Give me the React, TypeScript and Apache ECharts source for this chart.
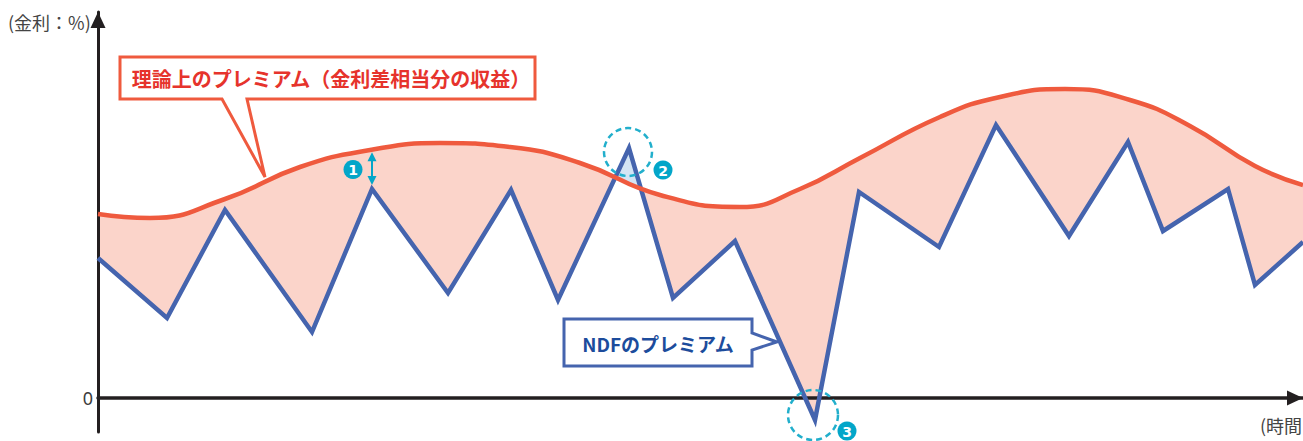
import React, { useEffect, useRef } from 'react';
import * as echarts from 'echarts';

// NDFのプレミアム：時間（グラフ左端からの位置）と値
const ndfTime = [0, 69, 127, 214, 274, 350, 413, 460, 531, 575, 637, 717, 761, 841, 898, 971, 1030, 1065, 1130, 1157, 1205];
const ndfPremium = [140, 80, 188, 66, 209, 105, 208, 98, 250, 100, 157, -22, 206, 151, 273, 162, 256, 167, 209, 113, 156];
// 理論上のプレミアム（金利差相当分の収益）：時間と値
const theoreticalTime = [0, 52, 127, 202, 272, 342, 412, 482, 562, 642, 702, 762, 842, 902, 967, 1032, 1092, 1157, 1205];
const theoreticalPremium = [184, 180, 199, 231, 248, 255, 251, 235, 203, 191, 209, 240, 281, 301, 309, 298, 272, 232, 213];
// y軸の目盛ラベル
const yTickLabels = [0];

const X_MIN = 0;
const X_MAX = 1205;
const Y_MIN = -34;
const Y_MAX = 386;

const FONT = '"Noto Sans CJK JP", "Noto Sans", sans-serif';
const RED = '#ef5a3e';
const BLUE = '#4564ae';
const CYAN = '#03a6c9';

function theoreticalAt(x: number): number {
  for (let k = 1; k < theoreticalTime.length; k++) {
    if (x <= theoreticalTime[k]) {
      const x0 = theoreticalTime[k - 1];
      const x1 = theoreticalTime[k];
      const t = (x - x0) / (x1 - x0);
      return theoreticalPremium[k - 1] + t * (theoreticalPremium[k] - theoreticalPremium[k - 1]);
    }
  }
  return theoreticalPremium[theoreticalPremium.length - 1];
}

export default function App() {
  const ref = useRef<HTMLDivElement>(null);

  useEffect(() => {
    if (!ref.current) return;
    const chart = echarts.init(ref.current, null, { renderer: 'svg' });
    const blueData = ndfTime.map((x, i) => [x, ndfPremium[i]]);
    const redData = theoreticalTime.map((x, i) => [x, theoreticalPremium[i]]);

    // NDF が理論値を上回る部分（水色）
    const renderItem = (params: any, api: any) => {
      const polys: number[][][] = [];
      let top: number[][] = [];
      let bot: number[][] = [];
      const n = ndfTime.length;
      for (let i = 0; i < n; i++) {
        const d = ndfPremium[i] - theoreticalAt(ndfTime[i]);
        if (i > 0) {
          const dp = ndfPremium[i - 1] - theoreticalAt(ndfTime[i - 1]);
          if ((dp > 0) !== (d > 0)) {
            const t = dp / (dp - d);
            const cx = ndfTime[i - 1] + t * (ndfTime[i] - ndfTime[i - 1]);
            const cy = ndfPremium[i - 1] + t * (ndfPremium[i] - ndfPremium[i - 1]);
            top.push(api.coord([cx, cy]));
            if (dp > 0) {
              polys.push(top.concat(bot.slice().reverse()));
              top = [];
              bot = [];
            }
          }
        }
        if (d > 0) {
          top.push(api.coord([ndfTime[i], ndfPremium[i]]));
          bot.push(api.coord([ndfTime[i], theoreticalAt(ndfTime[i])]));
        }
      }
      if (top.length) polys.push(top.concat(bot.slice().reverse()));
      return {
        type: 'group',
        children: polys.map((p) => ({
          type: 'polygon',
          shape: { points: p },
          style: { fill: '#d3e4f4' },
        })),
      };
    };

    chart.setOption({
      animation: false,
      backgroundColor: '#ffffff',
      grid: { left: 98, right: 0, top: 12, bottom: 9, containLabel: false, outerBoundsMode: 'none' },
      xAxis: {
        type: 'value',
        min: X_MIN,
        max: X_MAX,
        z: 4,
        axisLine: {
          show: true,
          onZero: true,
          lineStyle: { color: '#231f20', width: 3.5 },
          symbol: ['none', 'triangle'],
          symbolSize: [15, 16],
          symbolOffset: [0, -8],
        },
        axisTick: { show: false },
        axisLabel: { show: false },
        splitLine: { show: false },
      },
      yAxis: {
        type: 'value',
        min: Y_MIN,
        max: Y_MAX,
        z: 4,
        axisLine: {
          show: true,
          onZero: false,
          lineStyle: { color: '#231f20', width: 3 },
          symbol: ['none', 'triangle'],
          symbolSize: [15, 16],
          symbolOffset: [0, -8],
        },
        axisTick: { show: false },
        axisLabel: {
          customValues: yTickLabels,
          fontSize: 18,
          color: '#3c3c3c',
          margin: 5,
          fontFamily: '"Noto Sans", sans-serif',
        },
        splitLine: { show: false },
      },
      series: [
        {
          name: 'theoretical-area',
          type: 'line',
          data: redData,
          smooth: 0.5,
          symbol: 'none',
          lineStyle: { width: 0 },
          areaStyle: { color: '#fbd4ca', opacity: 1, origin: 'start' },
          z: 1,
          silent: true,
        },
        {
          name: 'ndf-area',
          type: 'line',
          data: blueData,
          symbol: 'none',
          lineStyle: { width: 0 },
          areaStyle: { color: '#ffffff', opacity: 1, origin: 'start' },
          z: 2,
          silent: true,
        },
        {
          name: 'excess',
          type: 'custom',
          renderItem,
          data: [[0, 0]],
          z: 3,
          silent: true,
        },
        {
          name: 'NDFのプレミアム',
          type: 'line',
          data: blueData,
          symbol: 'none',
          lineStyle: { color: BLUE, width: 4.5, join: 'miter', miterLimit: 4 },
          z: 5,
        },
        {
          name: '理論上のプレミアム',
          type: 'line',
          data: redData,
          smooth: 0.5,
          symbol: 'none',
          lineStyle: { color: RED, width: 4.5 },
          z: 6,
        },
      ],
    });

    const px = (x: number, y: number) => chart.convertToPixel({ gridIndex: 0 }, [x, y]) as number[];

    const i1 = 4;
    const t1 = px(ndfTime[i1], theoreticalAt(ndfTime[i1]));
    const b1 = px(ndfTime[i1], ndfPremium[i1]);
    const ax = b1[0];
    const ty = t1[1] + 2.5;
    const by = b1[1] - 4;
    const p2 = px(ndfTime[8], ndfPremium[8]);
    const p3 = px(ndfTime[11], ndfPremium[11]);

    const badge = (cx: number, cy: number, label: string) => ({
      type: 'group',
      z: 100,
      children: [
        { type: 'circle', z: 100, shape: { cx, cy, r: 9.5 }, style: { fill: CYAN } },
        {
          type: 'text',
          z: 101,
          x: cx,
          y: cy + 0.5,
          style: { text: label, fill: '#ffffff', font: 'bold 14px "DejaVu Sans", sans-serif', align: 'center', verticalAlign: 'middle' },
        },
      ],
    });

    const dashed = (cx: number, cy: number, r: number) => ({
      type: 'circle',
      z: 100,
      shape: { cx, cy, r },
      style: { fill: 'transparent', stroke: '#22afcc', lineWidth: 2.5, lineDash: [6, 4] },
    });

    chart.setOption({
      graphic: [
        {
          type: 'text',
          z: 100,
          x: 8,
          y: 22,
          style: { text: '(金利：%)', fill: '#444444', font: `18px ${FONT}`, align: 'left', verticalAlign: 'middle' },
        },
        {
          type: 'text',
          z: 100,
          x: 1302,
          y: 425,
          style: { text: '(時間', fill: '#444444', font: `18px ${FONT}`, align: 'right', verticalAlign: 'middle' },
        },
        {
          type: 'polygon',
          z: 100,
          shape: { points: [[120, 57], [535, 57], [535, 99], [247, 99], [265, 177], [222, 99], [120, 99]] },
          style: { fill: '#ffffff', stroke: RED, lineWidth: 3, lineJoin: 'miter' },
        },
        {
          type: 'text',
          z: 101,
          x: 331,
          y: 78,
          style: { text: '理論上のプレミアム（金利差相当分の収益）', fill: '#e6332c', font: `bold 20px ${FONT}`, align: 'center', verticalAlign: 'middle' },
        },
        {
          type: 'polygon',
          z: 100,
          shape: { points: [[564, 319], [752, 319], [752, 333], [777, 342], [752, 350], [752, 366], [564, 366]] },
          style: { fill: '#ffffff', stroke: BLUE, lineWidth: 3, lineJoin: 'miter' },
        },
        {
          type: 'text',
          z: 101,
          x: 658,
          y: 343,
          style: { text: 'NDFのプレミアム', fill: '#1c4c9c', font: `bold 19px ${FONT}`, align: 'center', verticalAlign: 'middle' },
        },
        {
          type: 'line',
          z: 100,
          shape: { x1: ax, y1: ty + 6, x2: ax, y2: by - 6 },
          style: { stroke: CYAN, lineWidth: 2 },
        },
        {
          type: 'polygon',
          z: 100,
          shape: { points: [[ax, ty], [ax - 4.5, ty + 9], [ax + 4.5, ty + 9]] },
          style: { fill: CYAN },
        },
        {
          type: 'polygon',
          z: 100,
          shape: { points: [[ax, by], [ax - 4.5, by - 9], [ax + 4.5, by - 9]] },
          style: { fill: CYAN },
        },
        badge(ax - 19, (t1[1] + b1[1]) / 2, '1'),
        dashed(p2[0] - 1, p2[1] + 4, 24),
        badge(p2[0] + 34, p2[1] + 22, '2'),
        dashed(p3[0] - 2, p3[1] - 5, 25),
        badge(p3[0] + 32, p3[1] + 11, '3'),
      ],
    });

    return () => chart.dispose();
  }, []);

  return (
    <div
      ref={ref}
      style={{ position: 'absolute', left: 0, top: 0, width: 1303, height: 441, background: '#fff' }}
    />
  );
}
